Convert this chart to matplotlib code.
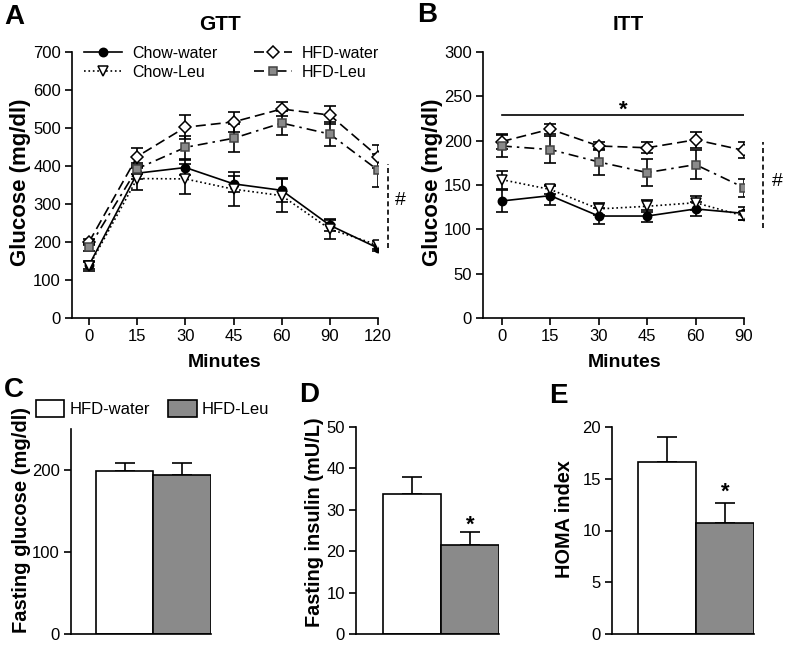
import matplotlib
matplotlib.use("Agg")
import matplotlib.pyplot as plt
from matplotlib.patches import Patch
import numpy as np

plt.rcParams['font.family'] = ['Liberation Sans', 'DejaVu Sans']

W, H = 786, 646

# ---------------- data ----------------
gtt_times = ["0", "15", "30", "45", "60", "90", "120"]
gtt_chow_water = [139, 381, 396, 353, 336, 244, 184]
gtt_chow_water_err = [10, 15, 20, 21, 32, 14, 8]
gtt_chow_leu = [136, 367, 366, 339, 322, 234, 192]
gtt_chow_leu_err = [12, 30, 40, 45, 44, 26, 10]
gtt_hfd_water = [200, 425, 502, 516, 550, 534, 425]
gtt_hfd_water_err = [8, 22, 31, 26, 18, 24, 30]
gtt_hfd_leu = [186, 393, 449, 473, 513, 484, 389]
gtt_hfd_leu_err = [10, 15, 30, 37, 31, 31, 43]

itt_times = ["0", "15", "30", "45", "60", "90"]
itt_chow_water = [132, 138, 115, 115, 123, 118]
itt_chow_water_err = [12, 11, 9, 7, 8, 7]
itt_chow_leu = [156, 145, 123, 126, 130, 115]
itt_chow_leu_err = [10, 5, 7, 7, 8, 5]
itt_hfd_water = [199, 213, 194, 192, 201, 189]
itt_hfd_water_err = [8, 6, 4, 6, 9, 9]
itt_hfd_leu = [194, 190, 176, 164, 173, 147]
itt_hfd_leu_err = [12, 15, 15, 15, 16, 10]

bar_groups = ["HFD-water", "HFD-Leu"]
fasting_glucose = [199, 194]
fasting_glucose_err = [9, 14]
fasting_insulin = [33.9, 21.5]
fasting_insulin_err = [4.0, 3.1]
homa_index = [16.6, 10.7]
homa_index_err = [2.4, 2.0]

GRAY = "#8a8a8a"

fig = plt.figure(figsize=(W / 100, H / 100), dpi=100)


def ax_px(l, t, r, b):
    return fig.add_axes([l / W, 1 - b / H, (r - l) / W, (b - t) / H])


def style(ax):
    for s in ("top", "right"):
        ax.spines[s].set_visible(False)
    for s in ("left", "bottom"):
        ax.spines[s].set_linewidth(1.2)
    ax.tick_params(direction="out", length=5, width=1.2, labelsize=12, pad=3)


series_styles = [
    dict(label="Chow-water", ls="-", marker="o", mfc="black", mec="black", ms=6),
    dict(label="Chow-Leu", ls=":", marker="v", mfc="white", mec="black", ms=7.5),
    dict(label="HFD-water", ls=(0, (6, 3)), marker="D", mfc="white", mec="black", ms=6.5),
    dict(label="HFD-Leu", ls=(0, (6, 3, 1.5, 3)), marker="s", mfc=GRAY, mec="#444444", ms=6),
]


def line_panel(ax, times, series, errs):
    x = np.arange(len(times))
    handles = []
    for vals, err, st in zip(series, errs, series_styles):
        ax.errorbar(x, vals, yerr=err, fmt="none", ecolor="black",
                    elinewidth=1.2, capsize=4, capthick=1.2, zorder=2)
        h, = ax.plot(x, vals, color="black", lw=1.2, ls=st["ls"], marker=st["marker"],
                     mfc=st["mfc"], mec=st["mec"], ms=st["ms"], mew=1.1,
                     label=st["label"], zorder=3)
        handles.append(h)
    ax.set_xticks(x)
    ax.set_xticklabels(times)
    return handles


# ---------------- Panel A: GTT ----------------
axA = ax_px(72, 52, 378, 318)
style(axA)
hA = line_panel(axA, gtt_times,
                [gtt_chow_water, gtt_chow_leu, gtt_hfd_water, gtt_hfd_leu],
                [gtt_chow_water_err, gtt_chow_leu_err, gtt_hfd_water_err, gtt_hfd_leu_err])
axA.set_xlim(-0.354, 6)
axA.set_ylim(0, 700)
axA.set_yticks(range(0, 701, 100))
axA.set_xlabel("Minutes", fontsize=14, fontweight="bold")
axA.xaxis.set_label_coords(225 / W, 1 - 367 / H, transform=fig.transFigure)
axA.xaxis.label.set_va("baseline")
axA.set_ylabel("Glucose (mg/dl)", fontsize=16, fontweight="bold")
axA.yaxis.set_label_coords(31 / W, 1 - 182 / H, transform=fig.transFigure)
axA.plot([6.21, 6.21], [185, 405], ls=(0, (3, 2)), color="black", lw=1.2, clip_on=False)
axA.text(6.46, 308, "#", fontsize=14, ha="center", va="center")

fig.legend(handles=hA, labels=[h.get_label() for h in hA], ncol=2,
           loc="upper left", bbox_to_anchor=(84 / W, 1 - 46 / H),
           frameon=False, fontsize=11.5, handlelength=2.4, handletextpad=0.6,
           columnspacing=2.3, labelspacing=0.25, borderaxespad=0, borderpad=0)

# ---------------- Panel B: ITT ----------------
axB = ax_px(483, 52, 744, 318)
style(axB)
line_panel(axB, itt_times,
           [itt_chow_water, itt_chow_leu, itt_hfd_water, itt_hfd_leu],
           [itt_chow_water_err, itt_chow_leu_err, itt_hfd_water_err, itt_hfd_leu_err])
axB.set_xlim(-0.39, 5)
axB.set_ylim(0, 300)
axB.set_yticks(range(0, 301, 50))
axB.set_xlabel("Minutes", fontsize=14, fontweight="bold")
axB.xaxis.set_label_coords(625 / W, 1 - 367 / H, transform=fig.transFigure)
axB.xaxis.label.set_va("baseline")
axB.set_ylabel("Glucose (mg/dl)", fontsize=16, fontweight="bold")
axB.yaxis.set_label_coords(443 / W, 1 - 182 / H, transform=fig.transFigure)
axB.plot([0, 5], [229, 229], color="black", lw=1.2)
axB.text(2.5, 222, "*", fontsize=16, fontweight="bold", ha="center", va="bottom")
axB.plot([5.39, 5.39], [101, 198], ls=(0, (3, 2)), color="black", lw=1.2, clip_on=False)
axB.text(5.69, 154, "#", fontsize=14, ha="center", va="center")

# ---------------- Bar panels ----------------
def bar_panel(ax, vals, errs, ylim, ticks, xleft, star=None):
    style(ax)
    x = np.arange(len(vals))
    ax.bar(x, vals, width=1.0, color=["white", GRAY], edgecolor="black", linewidth=1.2,
           zorder=2)
    ax.errorbar(x, vals, yerr=[np.zeros(len(errs)), errs], fmt="none", ecolor="black",
                elinewidth=1.2, capsize=7, capthick=1.2, zorder=1)
    ax.set_xlim(xleft, 1.5)
    ax.set_ylim(*ylim)
    ax.set_yticks(ticks)
    ax.set_xticks([])
    ax.spines["bottom"].set_bounds(xleft, 1.5)
    if star is not None:
        ax.text(1, star, "*", fontsize=16, fontweight="bold", ha="center", va="center")


axC = ax_px(71, 429, 211, 634)
bar_panel(axC, fasting_glucose, fasting_glucose_err, (0, 250), [0, 100, 200], -0.93)
axC.set_ylabel("Fasting glucose (mg/dl)", fontsize=14.5, fontweight="bold")
axC.yaxis.set_label_coords(31 / W, 1 - 520 / H, transform=fig.transFigure)

axD = ax_px(356, 427, 499, 634)
bar_panel(axD, fasting_insulin, fasting_insulin_err, (0, 50), range(0, 51, 10), -0.966,
          star=26.3)
axD.set_ylabel("Fasting insulin (mU/L)", fontsize=14.3, fontweight="bold")
axD.yaxis.set_label_coords(324 / W, 1 - 522 / H, transform=fig.transFigure)

axE = ax_px(612, 427, 754, 634)
bar_panel(axE, homa_index, homa_index_err, (0, 20), range(0, 21, 5), -0.94, star=13.7)
axE.set_ylabel("HOMA index", fontsize=14.3, fontweight="bold")
axE.yaxis.set_label_coords(574 / W, 1 - 519 / H, transform=fig.transFigure)

fig.legend(handles=[Patch(facecolor="white", edgecolor="black", lw=1.2),
                    Patch(facecolor=GRAY, edgecolor="black", lw=1.2)],
           labels=bar_groups, ncol=2, loc="upper left",
           bbox_to_anchor=(36 / W, 1 - 400 / H), frameon=False, fontsize=12,
           handlelength=1.7, handleheight=1.2, handletextpad=0.3,
           columnspacing=1.1, borderaxespad=0, borderpad=0)

# ---------------- titles and panel letters ----------------
fig.text(220 / W, 1 - 24 / H, "GTT", fontsize=15, fontweight="bold", ha="center", va="center")
fig.text(628 / W, 1 - 24 / H, "ITT", fontsize=15, fontweight="bold", ha="center", va="center")
for letter, (px, py) in {"A": (14, 17), "B": (427, 15), "C": (14, 390),
                         "D": (309, 395), "E": (558, 396)}.items():
    fig.text(px / W, 1 - py / H, letter, fontsize=20, fontweight="bold",
             ha="center", va="center")

fig.savefig("out.png", dpi=100)
